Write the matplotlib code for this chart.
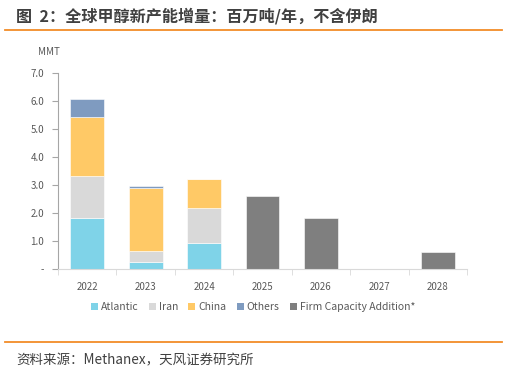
import matplotlib
matplotlib.use("Agg")
import matplotlib.pyplot as plt
from matplotlib.patches import Patch
from matplotlib.lines import Line2D

plt.rcParams['font.family'] = ['Noto Sans CJK SC', 'DejaVu Sans']

years = ['2022', '2023', '2024', '2025', '2026', '2027', '2028']
atlantic = [1.82, 0.27, 0.95, 0, 0, 0, 0]
iran = [1.51, 0.39, 1.25, 0, 0, 0, 0]
china = [2.12, 2.25, 1.02, 0, 0, 0, 0]
others = [0.62, 0.08, 0, 0, 0, 0, 0]
firm = [0, 0, 0, 2.62, 1.82, 0, 0.62]
yticks = [0, 1, 2, 3, 4, 5, 6, 7]
ytick_labels = ['-', '1.0', '2.0', '3.0', '4.0', '5.0', '6.0', '7.0']

colors = {'Atlantic': '#7FD3E8', 'Iran': '#D9D9D9', 'China': '#FFC966',
          'Others': '#7F9BC0', 'Firm Capacity Addition*': '#7F7F7F'}

fig = plt.figure(figsize=(5.08, 3.72), dpi=100)
W, H = 508, 372
ax = fig.add_axes([58 / W, 1 - 269.3 / H, (467 - 58) / W, (269.3 - 73.3) / H])

x = list(range(len(years)))
bw = 0.58
bottom = [0] * len(years)
for name, vals in [('Atlantic', atlantic), ('Iran', iran), ('China', china), ('Others', others)]:
    ax.bar(x, vals, bw, bottom=bottom, color=colors[name], edgecolor='white', linewidth=0.4)
    bottom = [b + v for b, v in zip(bottom, vals)]
ax.bar(x, firm, bw, color=colors['Firm Capacity Addition*'], edgecolor='white', linewidth=0.4)

ax.set_xlim(-0.5, len(years) - 0.5)
ax.set_ylim(0, 7)
ax.set_yticks(yticks)
ax.set_yticklabels(ytick_labels)
ax.set_xticks(x)
ax.set_xticklabels(years)
ax.set_xticks([i + 0.5 for i in range(-1, len(years))], minor=True)
ax.tick_params(axis='x', which='major', length=0, pad=9, labelsize=7, labelcolor='#595959')
ax.tick_params(axis='x', which='minor', length=4, color='#D9D9D9', direction='out')
ax.tick_params(axis='y', length=4, color='#A6A6A6', labelsize=7, labelcolor='#595959', pad=6)
for s in ['top', 'right']:
    ax.spines[s].set_visible(False)
ax.spines['left'].set_color('#A6A6A6')
ax.spines['bottom'].set_color('#D9D9D9')

fig.text(38 / W, 1 - 52 / H, 'MMT', fontsize=7, color='#595959', va='center', ha='left')

handles = [Patch(facecolor=c, edgecolor='none', label=n) for n, c in colors.items()]
fig.legend(handles=handles, loc='center', bbox_to_anchor=(253 / W, 1 - 307 / H), ncol=5,
           frameon=False, fontsize=7.5, handlelength=0.65, handleheight=0.65, handletextpad=0.3,
           columnspacing=1.0, labelcolor='#595959')

fig.text(16 / W, 1 - 16 / H, '图  2：全球甲醇新产能增量：百万吨/年，不含伊朗', fontsize=11.6,
         fontweight='bold', color='#404040', va='center', ha='left')
fig.add_artist(Line2D([5 / W, 502 / W], [1 - 30 / H, 1 - 30 / H], color='#F28C28', linewidth=1.3))
fig.add_artist(Line2D([5 / W, 502 / W], [1 - 342 / H, 1 - 342 / H], color='#F28C28', linewidth=1.3))
fig.text(16 / W, 1 - 360 / H, '资料来源：Methanex，天风证券研究所', fontsize=9.7,
         color='#404040', va='center', ha='left')

fig.savefig('out.png', dpi=100)
